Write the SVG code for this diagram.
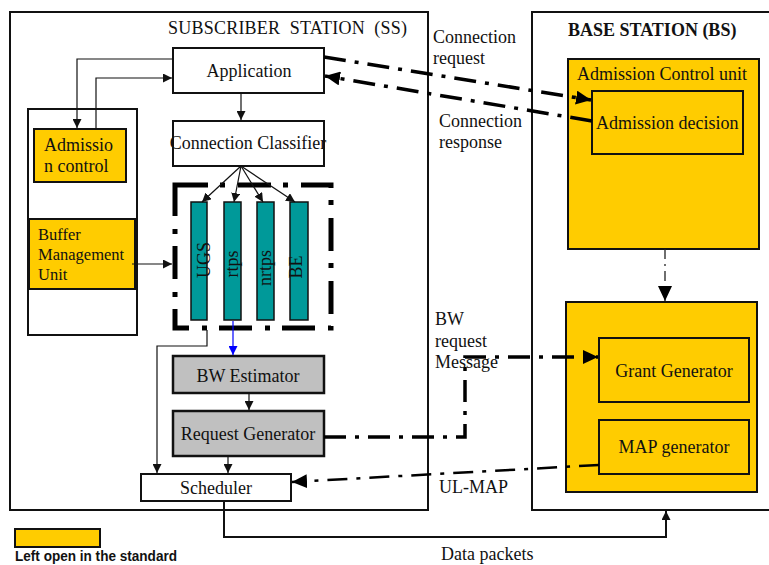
<svg xmlns="http://www.w3.org/2000/svg" width="769" height="565" viewBox="0 0 769 565">
  <style>
    .t { font-family: "Liberation Serif", "Times New Roman", serif; font-size: 18px; fill: #111; }
    .tb { font-family: "Liberation Serif", "Times New Roman", serif; font-size: 18px; font-weight: bold; fill: #111; }
    .frame { fill: #fff; stroke: #111; stroke-width: 2; }
    .box { fill: #fff; stroke: #111; stroke-width: 2; }
    .yel { fill: #FFCC00; stroke: #111; stroke-width: 2; }
    .gray { fill: #C0C0C0; stroke: #111; stroke-width: 2.5; }
    .q { fill: #009999; stroke: #111; stroke-width: 1.5; }
    .thin { fill: none; stroke: #111; stroke-width: 1.2; }
    .dd { fill: none; stroke: #000; stroke-width: 3.5; stroke-dasharray: 22 9 4 9; }
    .dm { fill: none; stroke: #000; stroke-width: 2.5; stroke-dasharray: 20 9 4 9; }
    .dt { fill: none; stroke: #222; stroke-width: 1.3; stroke-dasharray: 10 5 2 5; }
  </style>
  <defs>
    <marker id="ah" markerUnits="userSpaceOnUse" markerWidth="10" markerHeight="9" refX="9" refY="4.5" orient="auto">
      <path d="M0,0 L9,4.5 L0,9 Z" fill="#111"/>
    </marker>
    <marker id="ahb" markerUnits="userSpaceOnUse" markerWidth="10" markerHeight="9" refX="9" refY="4.5" orient="auto">
      <path d="M0,0 L9,4.5 L0,9 Z" fill="#0000ff"/>
    </marker>
    <marker id="ahL" markerUnits="userSpaceOnUse" markerWidth="16" markerHeight="14" refX="15" refY="7" orient="auto">
      <path d="M0,0 L15,7 L0,14 Z" fill="#000"/>
    </marker>
  </defs>

  <!-- station frames -->
  <g id="ss-frame">
    <rect class="frame" x="10" y="12" width="418" height="498"/>
    <text class="t" x="168" y="34" xml:space="preserve" textLength="239">SUBSCRIBER  STATION  (SS)</text>
  </g>
  <g id="bs-frame">
    <rect class="frame" x="532" y="12" width="250" height="498"/>
    <text class="tb" x="568" y="36">BASE STATION (BS)</text>
  </g>

  <!-- subscriber station nodes -->
  <g id="ss-left-panel">
    <rect class="box" x="28" y="109" width="109" height="226"/>
  </g>
  <g id="ss-admission">
    <rect class="yel" x="34" y="129" width="92" height="53"/>
    <text class="t" x="44" y="151">Admissio</text>
    <text class="t" x="44" y="172">n control</text>
  </g>
  <g id="buffer-mgmt">
    <rect class="yel" x="29" y="219" width="106" height="70"/>
    <text class="t" x="38" y="240" style="font-size:16.5px">Buffer</text>
    <text class="t" x="38" y="260" style="font-size:16.5px">Management</text>
    <text class="t" x="38" y="280" style="font-size:16.5px">Unit</text>
  </g>
  <g id="application">
    <rect class="box" x="173" y="48" width="151" height="45"/>
    <text class="t" x="249" y="77" text-anchor="middle">Application</text>
  </g>
  <g id="classifier">
    <rect class="box" x="173" y="121" width="151" height="45"/>
    <text class="t" x="248" y="149" text-anchor="middle">Connection Classifier</text>
  </g>
  <g id="queues">
    <rect x="175" y="185" width="156" height="143" fill="none" stroke="#000" stroke-width="5" stroke-dasharray="33 12 5 13"/>
    <rect class="q" x="191" y="202" width="16" height="118"/>
    <rect class="q" x="224" y="202" width="17" height="118"/>
    <rect class="q" x="257" y="202" width="17" height="118"/>
    <rect class="q" x="290" y="202" width="18" height="118"/>
    <text class="t" transform="translate(210,260) rotate(-90)" text-anchor="middle">UGS</text>
    <text class="t" transform="translate(238,264) rotate(-90)" text-anchor="middle">rtps</text>
    <text class="t" transform="translate(271,268) rotate(-90)" text-anchor="middle">nrtps</text>
    <text class="t" transform="translate(302,267) rotate(-90)" text-anchor="middle">BE</text>
  </g>
  <g id="bw-estimator">
    <rect class="gray" x="173" y="356" width="151" height="37"/>
    <text class="t" x="248" y="382" text-anchor="middle">BW Estimator</text>
  </g>
  <g id="request-generator">
    <rect class="gray" x="173" y="411" width="151" height="45"/>
    <text class="t" x="248" y="440" text-anchor="middle">Request Generator</text>
  </g>
  <g id="scheduler">
    <rect class="box" x="141" y="474" width="150" height="27"/>
    <text class="t" x="216" y="494" text-anchor="middle">Scheduler</text>
  </g>

  <!-- base station nodes -->
  <g id="bs-admission-unit">
    <rect class="yel" x="568" y="59" width="191" height="190"/>
    <text class="t" x="577" y="80">Admission Control unit</text>
  </g>
  <g id="admission-decision">
    <rect class="yel" x="592" y="91" width="151" height="63"/>
    <text class="t" x="596" y="129">Admission decision</text>
  </g>
  <g id="bs-scheduler-unit">
    <rect class="yel" x="566" y="302" width="191" height="190"/>
  </g>
  <g id="grant-generator">
    <rect class="yel" x="599" y="338" width="150" height="64"/>
    <text class="t" x="674" y="377" text-anchor="middle">Grant Generator</text>
  </g>
  <g id="map-generator">
    <rect class="yel" x="599" y="420" width="150" height="54"/>
    <text class="t" x="674" y="453" text-anchor="middle">MAP generator</text>
  </g>

  <!-- legend -->
  <g id="legend">
    <rect class="yel" x="15" y="529" width="85" height="18"/>
    <text x="15" y="561" font-family="'Liberation Sans', Arial, sans-serif" font-size="14.5" font-weight="bold" fill="#111" textLength="162" lengthAdjust="spacingAndGlyphs">Left open in the standard</text>
  </g>

  <!-- connectors -->
  <g id="connectors">
    <path class="thin" d="M173,59 H77 V128" marker-end="url(#ah)"/>
    <path class="thin" d="M96,129 V78 H172" stroke="#444" marker-end="url(#ah)"/>
    <path class="thin" d="M241,93 V120" marker-end="url(#ah)"/>
    <path class="thin" d="M241,166 L202,202" marker-end="url(#ah)"/>
    <path class="thin" d="M241,166 L234,202" marker-end="url(#ah)"/>
    <path class="thin" d="M241,166 L263,202" marker-end="url(#ah)"/>
    <path class="thin" d="M241,166 L295,202" marker-end="url(#ah)"/>
    <path class="thin" d="M132,264 H172" marker-end="url(#ah)"/>
    <path d="M233,321 V355" fill="none" stroke="#0000ff" stroke-width="1.2" marker-end="url(#ahb)"/>
    <path class="thin" d="M207,330 V346 H157 V473" marker-end="url(#ah)"/>
    <path class="thin" d="M249,393 V410" marker-end="url(#ah)"/>
    <path class="thin" d="M228,456 V473" stroke="#555" marker-end="url(#ah)"/>
    <path d="M224,501 V537 H666 V511" fill="none" stroke="#111" stroke-width="2" marker-end="url(#ah)"/>

    <path class="dd" d="M324,57 L591,100" marker-end="url(#ahL)"/>
    <path class="dd" d="M592,121 L325,76" marker-end="url(#ahL)"/>
    <path class="dd" d="M324,437 H465 V357 H598" marker-end="url(#ahL)"/>
    <path class="dm" d="M599,465 L292,482" marker-end="url(#ahL)"/>
    <path class="dt" d="M665,249 V301" marker-end="url(#ahL)"/>
  </g>

  <!-- connector labels -->
  <g id="labels">
    <text class="t" x="433" y="43">Connection</text>
    <text class="t" x="433" y="64">request</text>
    <text class="t" x="439" y="127">Connection</text>
    <text class="t" x="439" y="148">response</text>
    <text class="t" x="435" y="325">BW</text>
    <text class="t" x="435" y="347">request</text>
    <text class="t" x="435" y="368">Message</text>
    <text class="t" x="439" y="493">UL-MAP</text>
    <text class="t" x="441" y="560">Data packets</text>
  </g>
</svg>
